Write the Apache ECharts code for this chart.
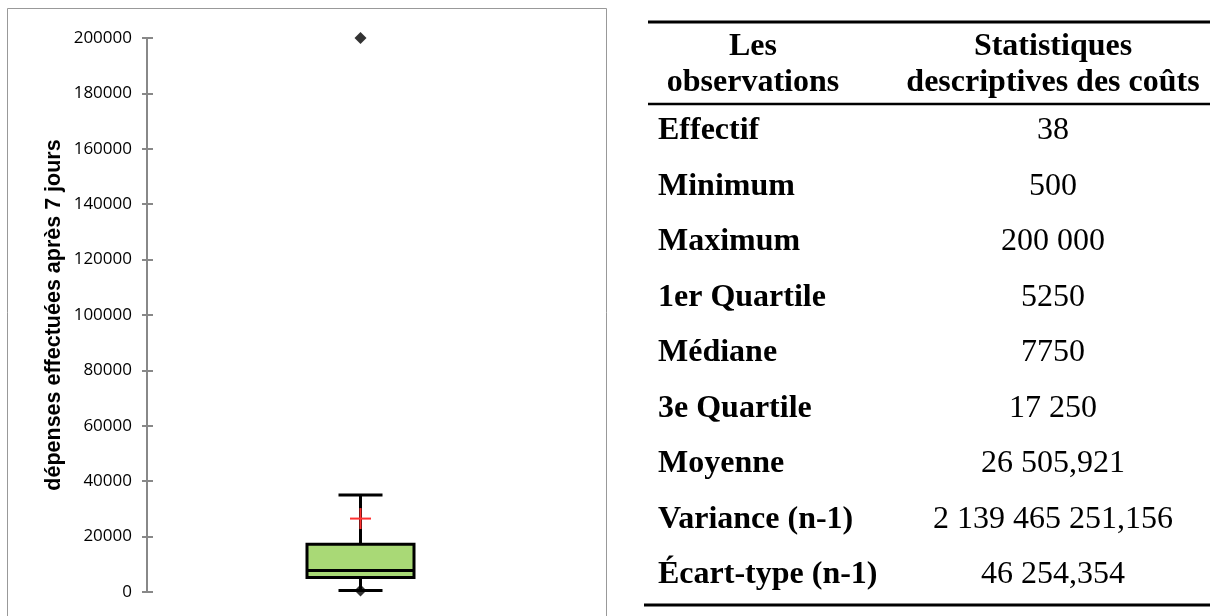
<!DOCTYPE html>
<html>
<head>
<meta charset="utf-8">
<script src="https://cdn.jsdelivr.net/npm/echarts@6/dist/echarts.min.js"></script>
<style>
  html, body { margin: 0; padding: 0; background: #fff; }
  #main { width: 1210px; height: 616px; }
</style>
</head>
<body>
<div id="main"></div>
<script>
// ---- Data ----
const categories = ['dépenses'];
// [category index, whisker low, Q1, median, Q3, whisker high]
const boxValues = [[0, 500, 5250, 7750, 17250, 35000]];
const meanValues = [[0, 26505.921]];
const extremeValues = [[0, 200000], [0, 500]];
const yTicks = { min: 0, max: 200000, interval: 20000 };
const axisTitle = 'dépenses effectuées après 7 jours';

const tableHeader = [['Les', 'observations'], ['Statistiques', 'descriptives des coûts']];
const rowLabels = ['Effectif', 'Minimum', 'Maximum', '1er Quartile', 'Médiane', '3e Quartile', 'Moyenne', 'Variance (n-1)', 'Écart-type (n-1)'];
const rowValues = ['38', '500', '200 000', '5250', '7750', '17 250', '26 505,921', '2 139 465 251,156', '46 254,354'];

// ---- Chart ----
const chart = echarts.init(document.getElementById('main'), null, { renderer: 'canvas' });

const serifBold = 'bold 32px "Liberation Serif", "Times New Roman", serif';
const serif = '32px "Liberation Serif", "Times New Roman", serif';

const graphics = [];
// chart panel border
graphics.push({ type: 'rect', shape: { x: 7.5, y: 8.5, width: 599, height: 640 }, style: { fill: null, stroke: '#999', lineWidth: 1 }, z: -1 });
// table rules
graphics.push({ type: 'line', shape: { x1: 648, y1: 22, x2: 1210, y2: 22 }, style: { stroke: '#000', lineWidth: 3 } });
graphics.push({ type: 'line', shape: { x1: 648, y1: 104, x2: 1210, y2: 104 }, style: { stroke: '#000', lineWidth: 2.5 } });
graphics.push({ type: 'line', shape: { x1: 644, y1: 605, x2: 1210, y2: 605 }, style: { stroke: '#000', lineWidth: 3 } });
const headerX = [753, 1053];
tableHeader.forEach(function (lines, c) {
  lines.forEach(function (t, k) {
    graphics.push({ type: 'text', style: { text: t, x: headerX[c], y: 47 + k * 36, font: serifBold, fill: '#000', align: 'center', verticalAlign: 'middle' } });
  });
});
rowLabels.forEach(function (t, i) {
  const y = 131 + i * 55.5;
  graphics.push({ type: 'text', style: { text: t, x: 658, y: y, font: serifBold, fill: '#000', align: 'left', verticalAlign: 'middle' } });
  graphics.push({ type: 'text', style: { text: rowValues[i], x: 1053, y: y, font: serif, fill: '#000', align: 'center', verticalAlign: 'middle' } });
});

const option = {
  animation: false,
  backgroundColor: '#fff',
  grid: { left: 147, top: 38, width: 427, height: 554 },
  xAxis: { type: 'category', data: categories, show: false },
  yAxis: [
    {
      type: 'value', min: yTicks.min, max: yTicks.max, interval: yTicks.interval, position: 'left',
      name: axisTitle, nameLocation: 'middle', nameGap: 82, nameRotate: 90,
      nameTextStyle: { fontFamily: 'Liberation Sans, Arial, sans-serif', fontWeight: 'bold', fontSize: 21.5, color: '#000' },
      axisLine: { show: true, lineStyle: { color: '#888', width: 2 } },
      axisTick: { show: true, length: 5, lineStyle: { color: '#888', width: 2 } },
      axisLabel: { margin: 15, fontFamily: '"Open Sans", sans-serif', fontSize: 17, color: '#000', formatter: function (v) { return String(v); } },
      splitLine: { show: false }
    },
    {
      type: 'value', min: yTicks.min, max: yTicks.max, interval: yTicks.interval, position: 'left', offset: 0,
      axisLine: { show: false },
      axisTick: { show: true, inside: true, length: 6, lineStyle: { color: '#888', width: 2 } },
      axisLabel: { show: false },
      splitLine: { show: false }
    }
  ],
  graphic: graphics,
  series: [
    {
      type: 'custom',
      data: boxValues,
      z: 2,
      renderItem: function (params, api) {
        const x = api.value(0);
        const lo = api.coord([x, api.value(1)]);
        const q1 = api.coord([x, api.value(2)]);
        const md = api.coord([x, api.value(3)]);
        const q3 = api.coord([x, api.value(4)]);
        const hi = api.coord([x, api.value(5)]);
        const cx = lo[0];
        const hw = 53.5, cw = 22;
        const black = { stroke: '#000', lineWidth: 3 };
        return {
          type: 'group',
          children: [
            { type: 'line', shape: { x1: cx, y1: q3[1], x2: cx, y2: hi[1] }, style: black },
            { type: 'line', shape: { x1: cx, y1: q1[1], x2: cx, y2: lo[1] }, style: black },
            { type: 'line', shape: { x1: cx - cw, y1: hi[1], x2: cx + cw, y2: hi[1] }, style: black },
            { type: 'line', shape: { x1: cx - cw, y1: lo[1], x2: cx + cw, y2: lo[1] }, style: black },
            { type: 'rect', shape: { x: cx - hw, y: q3[1], width: hw * 2, height: q1[1] - q3[1] }, style: { fill: '#a9d976', stroke: '#000', lineWidth: 3 } },
            { type: 'line', shape: { x1: cx - hw, y1: md[1], x2: cx + hw, y2: md[1] }, style: black }
          ]
        };
      }
    },
    {
      type: 'custom',
      data: meanValues,
      z: 3,
      renderItem: function (params, api) {
        const p = api.coord([api.value(0), api.value(1)]);
        const s = 10.5;
        const red = { stroke: '#ff3030', lineWidth: 2 };
        return {
          type: 'group',
          children: [
            { type: 'line', shape: { x1: p[0] - s, y1: p[1], x2: p[0] + s, y2: p[1] }, style: red },
            { type: 'line', shape: { x1: p[0], y1: p[1] - s, x2: p[0], y2: p[1] + s }, style: red }
          ]
        };
      }
    },
    {
      type: 'scatter',
      data: extremeValues,
      symbol: 'diamond',
      symbolSize: 12,
      z: 4,
      itemStyle: { color: '#000' }
    }
  ]
};
chart.setOption(option);
</script>
</body>
</html>
